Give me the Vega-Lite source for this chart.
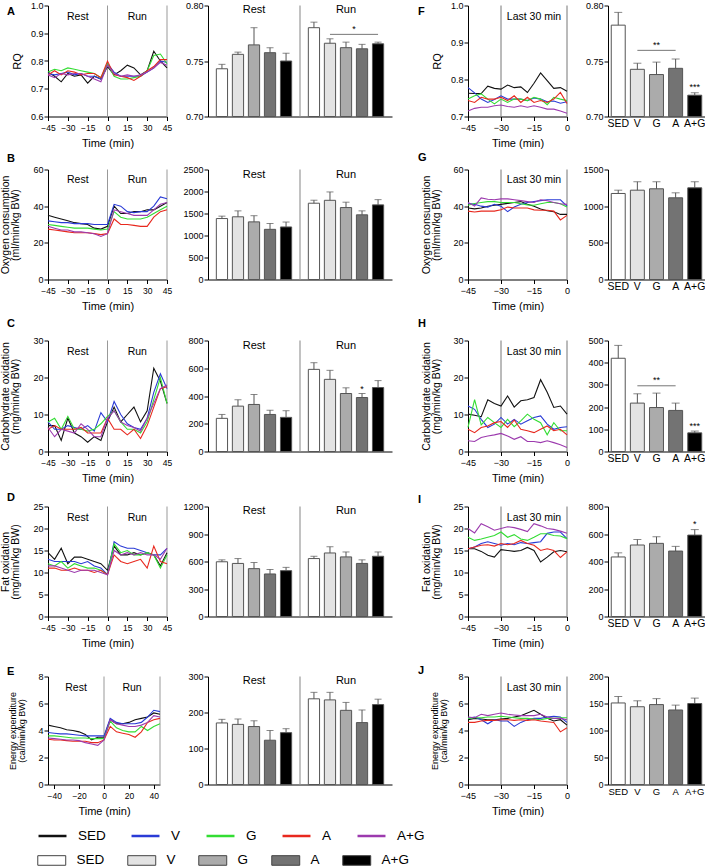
{
"$schema":"https://vega.github.io/schema/vega-lite/v6.json",
"background":"white",
"padding":{"left":0,"top":1.5,"right":0,"bottom":0},
"autosize":{"type":"pad"},
"config":{
 "view":{"stroke":null},
 "font":"Liberation Sans",
 "axis":{"grid":false,"domainColor":"#000000","domainWidth":1,"tickColor":"#000000","tickWidth":1,"tickSize":4,"labelColor":"#000000","labelFont":"Liberation Sans","labelFontSize":9,"labelPadding":1,"labelFlush":false,"labelOverlap":false,"labelBound":false,"titleFont":"Liberation Sans","titleFontSize":10.5,"titleFontWeight":"normal","titleColor":"#000000","titleLineHeight":10},
 "axisX":{"labelPadding":3,"titlePadding":5,"titleFontSize":11},
 "text":{"font":"Liberation Sans","color":"#000000"},
 "title":{"font":"Liberation Sans","color":"#000000"},
 "legend":{"labelFont":"Liberation Sans","labelColor":"#000000"}
},
"datasets":{
"lA":[
{"t":-45,"g":"SED","v":0.76},{"t":-40,"g":"SED","v":0.745},{"t":-35,"g":"SED","v":0.725},{"t":-30,"g":"SED","v":0.755},{"t":-25,"g":"SED","v":0.745},{"t":-20,"g":"SED","v":0.75},{"t":-15,"g":"SED","v":0.72},{"t":-10,"g":"SED","v":0.745},{"t":-5,"g":"SED","v":0.735},{"t":0,"g":"SED","v":0.78},{"t":5,"g":"SED","v":0.75},{"t":10,"g":"SED","v":0.765},{"t":15,"g":"SED","v":0.785},{"t":20,"g":"SED","v":0.775},{"t":25,"g":"SED","v":0.75},{"t":30,"g":"SED","v":0.765},{"t":35,"g":"SED","v":0.835},{"t":40,"g":"SED","v":0.8},{"t":45,"g":"SED","v":0.775},
{"t":-45,"g":"V","v":0.755},{"t":-40,"g":"V","v":0.75},{"t":-35,"g":"V","v":0.755},{"t":-30,"g":"V","v":0.76},{"t":-25,"g":"V","v":0.75},{"t":-20,"g":"V","v":0.755},{"t":-15,"g":"V","v":0.745},{"t":-10,"g":"V","v":0.745},{"t":-5,"g":"V","v":0.735},{"t":0,"g":"V","v":0.79},{"t":5,"g":"V","v":0.76},{"t":10,"g":"V","v":0.745},{"t":15,"g":"V","v":0.745},{"t":20,"g":"V","v":0.745},{"t":25,"g":"V","v":0.745},{"t":30,"g":"V","v":0.76},{"t":35,"g":"V","v":0.775},{"t":40,"g":"V","v":0.8},{"t":45,"g":"V","v":0.795},
{"t":-45,"g":"G","v":0.76},{"t":-40,"g":"G","v":0.77},{"t":-35,"g":"G","v":0.765},{"t":-30,"g":"G","v":0.775},{"t":-25,"g":"G","v":0.77},{"t":-20,"g":"G","v":0.765},{"t":-15,"g":"G","v":0.76},{"t":-10,"g":"G","v":0.755},{"t":-5,"g":"G","v":0.74},{"t":0,"g":"G","v":0.79},{"t":5,"g":"G","v":0.745},{"t":10,"g":"G","v":0.735},{"t":15,"g":"G","v":0.735},{"t":20,"g":"G","v":0.74},{"t":25,"g":"G","v":0.745},{"t":30,"g":"G","v":0.765},{"t":35,"g":"G","v":0.82},{"t":40,"g":"G","v":0.825},{"t":45,"g":"G","v":0.79},
{"t":-45,"g":"A","v":0.75},{"t":-40,"g":"A","v":0.765},{"t":-35,"g":"A","v":0.75},{"t":-30,"g":"A","v":0.765},{"t":-25,"g":"A","v":0.76},{"t":-20,"g":"A","v":0.75},{"t":-15,"g":"A","v":0.755},{"t":-10,"g":"A","v":0.755},{"t":-5,"g":"A","v":0.74},{"t":0,"g":"A","v":0.8},{"t":5,"g":"A","v":0.75},{"t":10,"g":"A","v":0.745},{"t":15,"g":"A","v":0.74},{"t":20,"g":"A","v":0.73},{"t":25,"g":"A","v":0.745},{"t":30,"g":"A","v":0.765},{"t":35,"g":"A","v":0.78},{"t":40,"g":"A","v":0.805},{"t":45,"g":"A","v":0.805},
{"t":-45,"g":"A+G","v":0.75},{"t":-40,"g":"A+G","v":0.74},{"t":-35,"g":"A+G","v":0.755},{"t":-30,"g":"A+G","v":0.75},{"t":-25,"g":"A+G","v":0.755},{"t":-20,"g":"A+G","v":0.755},{"t":-15,"g":"A+G","v":0.745},{"t":-10,"g":"A+G","v":0.735},{"t":-5,"g":"A+G","v":0.725},{"t":0,"g":"A+G","v":0.785},{"t":5,"g":"A+G","v":0.755},{"t":10,"g":"A+G","v":0.745},{"t":15,"g":"A+G","v":0.75},{"t":20,"g":"A+G","v":0.745},{"t":25,"g":"A+G","v":0.75},{"t":30,"g":"A+G","v":0.76},{"t":35,"g":"A+G","v":0.775},{"t":40,"g":"A+G","v":0.795},{"t":45,"g":"A+G","v":0.785}],
"lB":[
{"t":-45,"g":"SED","v":35},{"t":-40,"g":"SED","v":34},{"t":-35,"g":"SED","v":33},{"t":-30,"g":"SED","v":32},{"t":-25,"g":"SED","v":31},{"t":-20,"g":"SED","v":30.5},{"t":-15,"g":"SED","v":30},{"t":-10,"g":"SED","v":28},{"t":-5,"g":"SED","v":27.5},{"t":0,"g":"SED","v":29},{"t":5,"g":"SED","v":40},{"t":10,"g":"SED","v":36},{"t":15,"g":"SED","v":36},{"t":20,"g":"SED","v":37},{"t":25,"g":"SED","v":37},{"t":30,"g":"SED","v":38},{"t":35,"g":"SED","v":38},{"t":40,"g":"SED","v":40},{"t":45,"g":"SED","v":42},
{"t":-45,"g":"V","v":32},{"t":-40,"g":"V","v":31.5},{"t":-35,"g":"V","v":31},{"t":-30,"g":"V","v":31},{"t":-25,"g":"V","v":30.5},{"t":-20,"g":"V","v":30.5},{"t":-15,"g":"V","v":30.5},{"t":-10,"g":"V","v":30},{"t":-5,"g":"V","v":30},{"t":0,"g":"V","v":30},{"t":5,"g":"V","v":41},{"t":10,"g":"V","v":40},{"t":15,"g":"V","v":37},{"t":20,"g":"V","v":36.5},{"t":25,"g":"V","v":37},{"t":30,"g":"V","v":37},{"t":35,"g":"V","v":40},{"t":40,"g":"V","v":45},{"t":45,"g":"V","v":44},
{"t":-45,"g":"G","v":30},{"t":-40,"g":"G","v":29.5},{"t":-35,"g":"G","v":29},{"t":-30,"g":"G","v":28.5},{"t":-25,"g":"G","v":28},{"t":-20,"g":"G","v":28},{"t":-15,"g":"G","v":28},{"t":-10,"g":"G","v":27.5},{"t":-5,"g":"G","v":27},{"t":0,"g":"G","v":27.5},{"t":5,"g":"G","v":37},{"t":10,"g":"G","v":34},{"t":15,"g":"G","v":33},{"t":20,"g":"G","v":33},{"t":25,"g":"G","v":33},{"t":30,"g":"G","v":34},{"t":35,"g":"G","v":36},{"t":40,"g":"G","v":38},{"t":45,"g":"G","v":40},
{"t":-45,"g":"A","v":27.5},{"t":-40,"g":"A","v":27},{"t":-35,"g":"A","v":26.5},{"t":-30,"g":"A","v":26},{"t":-25,"g":"A","v":25.5},{"t":-20,"g":"A","v":25.5},{"t":-15,"g":"A","v":25.5},{"t":-10,"g":"A","v":25},{"t":-5,"g":"A","v":24.5},{"t":0,"g":"A","v":25},{"t":5,"g":"A","v":33},{"t":10,"g":"A","v":30},{"t":15,"g":"A","v":30},{"t":20,"g":"A","v":29.5},{"t":25,"g":"A","v":29},{"t":30,"g":"A","v":29},{"t":35,"g":"A","v":34},{"t":40,"g":"A","v":37},{"t":45,"g":"A","v":38},
{"t":-45,"g":"A+G","v":29},{"t":-40,"g":"A+G","v":28},{"t":-35,"g":"A+G","v":27},{"t":-30,"g":"A+G","v":27},{"t":-25,"g":"A+G","v":26},{"t":-20,"g":"A+G","v":26},{"t":-15,"g":"A+G","v":25.5},{"t":-10,"g":"A+G","v":25},{"t":-5,"g":"A+G","v":23.5},{"t":0,"g":"A+G","v":25},{"t":5,"g":"A+G","v":38},{"t":10,"g":"A+G","v":37},{"t":15,"g":"A+G","v":36},{"t":20,"g":"A+G","v":35},{"t":25,"g":"A+G","v":35},{"t":30,"g":"A+G","v":35},{"t":35,"g":"A+G","v":38},{"t":40,"g":"A+G","v":41},{"t":45,"g":"A+G","v":42}],
"lC":[
{"t":-45,"g":"SED","v":7},{"t":-40,"g":"SED","v":7},{"t":-35,"g":"SED","v":3},{"t":-30,"g":"SED","v":9},{"t":-25,"g":"SED","v":5},{"t":-20,"g":"SED","v":4},{"t":-15,"g":"SED","v":2.5},{"t":-10,"g":"SED","v":4},{"t":-5,"g":"SED","v":3},{"t":0,"g":"SED","v":8},{"t":5,"g":"SED","v":12},{"t":10,"g":"SED","v":8},{"t":15,"g":"SED","v":10},{"t":20,"g":"SED","v":12},{"t":25,"g":"SED","v":8},{"t":30,"g":"SED","v":11},{"t":35,"g":"SED","v":22.5},{"t":40,"g":"SED","v":19},{"t":45,"g":"SED","v":13},
{"t":-45,"g":"V","v":8},{"t":-40,"g":"V","v":6},{"t":-35,"g":"V","v":6},{"t":-30,"g":"V","v":7},{"t":-25,"g":"V","v":6.5},{"t":-20,"g":"V","v":6},{"t":-15,"g":"V","v":7},{"t":-10,"g":"V","v":5.5},{"t":-5,"g":"V","v":10.5},{"t":0,"g":"V","v":8},{"t":5,"g":"V","v":13.5},{"t":10,"g":"V","v":10},{"t":15,"g":"V","v":7.5},{"t":20,"g":"V","v":6.5},{"t":25,"g":"V","v":6},{"t":30,"g":"V","v":9},{"t":35,"g":"V","v":16},{"t":40,"g":"V","v":21},{"t":45,"g":"V","v":17},
{"t":-45,"g":"G","v":8},{"t":-40,"g":"G","v":9},{"t":-35,"g":"G","v":6},{"t":-30,"g":"G","v":9.5},{"t":-25,"g":"G","v":6},{"t":-20,"g":"G","v":6},{"t":-15,"g":"G","v":5.5},{"t":-10,"g":"G","v":6},{"t":-5,"g":"G","v":7.5},{"t":0,"g":"G","v":9.5},{"t":5,"g":"G","v":11},{"t":10,"g":"G","v":8},{"t":15,"g":"G","v":6},{"t":20,"g":"G","v":6},{"t":25,"g":"G","v":5},{"t":30,"g":"G","v":8},{"t":35,"g":"G","v":14},{"t":40,"g":"G","v":20},{"t":45,"g":"G","v":13},
{"t":-45,"g":"A","v":6},{"t":-40,"g":"A","v":7},{"t":-35,"g":"A","v":6},{"t":-30,"g":"A","v":6},{"t":-25,"g":"A","v":6},{"t":-20,"g":"A","v":6.5},{"t":-15,"g":"A","v":5},{"t":-10,"g":"A","v":5},{"t":-5,"g":"A","v":5},{"t":0,"g":"A","v":9},{"t":5,"g":"A","v":6},{"t":10,"g":"A","v":6},{"t":15,"g":"A","v":4.5},{"t":20,"g":"A","v":6},{"t":25,"g":"A","v":3.5},{"t":30,"g":"A","v":7},{"t":35,"g":"A","v":12},{"t":40,"g":"A","v":17},{"t":45,"g":"A","v":17.5},
{"t":-45,"g":"A+G","v":6.5},{"t":-40,"g":"A+G","v":4},{"t":-35,"g":"A+G","v":6},{"t":-30,"g":"A+G","v":5.5},{"t":-25,"g":"A+G","v":5},{"t":-20,"g":"A+G","v":7.5},{"t":-15,"g":"A+G","v":6},{"t":-10,"g":"A+G","v":4},{"t":-5,"g":"A+G","v":4},{"t":0,"g":"A+G","v":9},{"t":5,"g":"A+G","v":11},{"t":10,"g":"A+G","v":8},{"t":15,"g":"A+G","v":7},{"t":20,"g":"A+G","v":6.5},{"t":25,"g":"A+G","v":5.5},{"t":30,"g":"A+G","v":9},{"t":35,"g":"A+G","v":13},{"t":40,"g":"A+G","v":17},{"t":45,"g":"A+G","v":18}],
"lD":[
{"t":-45,"g":"SED","v":14.5},{"t":-40,"g":"SED","v":13},{"t":-35,"g":"SED","v":15.5},{"t":-30,"g":"SED","v":12},{"t":-25,"g":"SED","v":13.5},{"t":-20,"g":"SED","v":13.5},{"t":-15,"g":"SED","v":13},{"t":-10,"g":"SED","v":12.5},{"t":-5,"g":"SED","v":12},{"t":0,"g":"SED","v":10.5},{"t":5,"g":"SED","v":16},{"t":10,"g":"SED","v":14},{"t":15,"g":"SED","v":14},{"t":20,"g":"SED","v":14.5},{"t":25,"g":"SED","v":14},{"t":30,"g":"SED","v":14.5},{"t":35,"g":"SED","v":14},{"t":40,"g":"SED","v":11.5},{"t":45,"g":"SED","v":14.5},
{"t":-45,"g":"V","v":13},{"t":-40,"g":"V","v":12.5},{"t":-35,"g":"V","v":12.5},{"t":-30,"g":"V","v":12.5},{"t":-25,"g":"V","v":12.5},{"t":-20,"g":"V","v":12},{"t":-15,"g":"V","v":12.5},{"t":-10,"g":"V","v":11.5},{"t":-5,"g":"V","v":11},{"t":0,"g":"V","v":9.5},{"t":5,"g":"V","v":17},{"t":10,"g":"V","v":16},{"t":15,"g":"V","v":15.5},{"t":20,"g":"V","v":15.5},{"t":25,"g":"V","v":15},{"t":30,"g":"V","v":14.5},{"t":35,"g":"V","v":14},{"t":40,"g":"V","v":14},{"t":45,"g":"V","v":15.5},
{"t":-45,"g":"G","v":12},{"t":-40,"g":"G","v":11.5},{"t":-35,"g":"G","v":12.5},{"t":-30,"g":"G","v":11},{"t":-25,"g":"G","v":12},{"t":-20,"g":"G","v":11.5},{"t":-15,"g":"G","v":11},{"t":-10,"g":"G","v":11},{"t":-5,"g":"G","v":10.5},{"t":0,"g":"G","v":9.5},{"t":5,"g":"G","v":16.5},{"t":10,"g":"G","v":14.5},{"t":15,"g":"G","v":15},{"t":20,"g":"G","v":14},{"t":25,"g":"G","v":14},{"t":30,"g":"G","v":14.5},{"t":35,"g":"G","v":14},{"t":40,"g":"G","v":11},{"t":45,"g":"G","v":14},
{"t":-45,"g":"A","v":11},{"t":-40,"g":"A","v":11},{"t":-35,"g":"A","v":10.5},{"t":-30,"g":"A","v":10.5},{"t":-25,"g":"A","v":11},{"t":-20,"g":"A","v":10.5},{"t":-15,"g":"A","v":10.5},{"t":-10,"g":"A","v":10},{"t":-5,"g":"A","v":10.5},{"t":0,"g":"A","v":9.5},{"t":5,"g":"A","v":14},{"t":10,"g":"A","v":12.5},{"t":15,"g":"A","v":12},{"t":20,"g":"A","v":12.5},{"t":25,"g":"A","v":13},{"t":30,"g":"A","v":11},{"t":35,"g":"A","v":16},{"t":40,"g":"A","v":12.5},{"t":45,"g":"A","v":12},
{"t":-45,"g":"A+G","v":11.5},{"t":-40,"g":"A+G","v":11.5},{"t":-35,"g":"A+G","v":11},{"t":-30,"g":"A+G","v":10.5},{"t":-25,"g":"A+G","v":10},{"t":-20,"g":"A+G","v":10.5},{"t":-15,"g":"A+G","v":10.5},{"t":-10,"g":"A+G","v":10.5},{"t":-5,"g":"A+G","v":10},{"t":0,"g":"A+G","v":9.5},{"t":5,"g":"A+G","v":15},{"t":10,"g":"A+G","v":14},{"t":15,"g":"A+G","v":14.5},{"t":20,"g":"A+G","v":14},{"t":25,"g":"A+G","v":14.5},{"t":30,"g":"A+G","v":14},{"t":35,"g":"A+G","v":14},{"t":40,"g":"A+G","v":13},{"t":45,"g":"A+G","v":15.5}],
"lE":[
{"t":-45,"g":"SED","v":4.4},{"t":-40,"g":"SED","v":4.3},{"t":-35,"g":"SED","v":4.2},{"t":-30,"g":"SED","v":4.05},{"t":-25,"g":"SED","v":4},{"t":-20,"g":"SED","v":3.9},{"t":-15,"g":"SED","v":3.7},{"t":-10,"g":"SED","v":3.3},{"t":-5,"g":"SED","v":3.5},{"t":0,"g":"SED","v":3.5},{"t":5,"g":"SED","v":4.8},{"t":10,"g":"SED","v":4.5},{"t":15,"g":"SED","v":4.5},{"t":20,"g":"SED","v":4.6},{"t":25,"g":"SED","v":4.8},{"t":30,"g":"SED","v":4.9},{"t":35,"g":"SED","v":5},{"t":40,"g":"SED","v":5.3},{"t":45,"g":"SED","v":5.2},
{"t":-45,"g":"V","v":3.85},{"t":-40,"g":"V","v":3.8},{"t":-35,"g":"V","v":3.75},{"t":-30,"g":"V","v":3.75},{"t":-25,"g":"V","v":3.7},{"t":-20,"g":"V","v":3.65},{"t":-15,"g":"V","v":3.6},{"t":-10,"g":"V","v":3.6},{"t":-5,"g":"V","v":3.6},{"t":0,"g":"V","v":3.6},{"t":5,"g":"V","v":4.9},{"t":10,"g":"V","v":4.6},{"t":15,"g":"V","v":4.5},{"t":20,"g":"V","v":4.5},{"t":25,"g":"V","v":4.5},{"t":30,"g":"V","v":4.6},{"t":35,"g":"V","v":5},{"t":40,"g":"V","v":5.5},{"t":45,"g":"V","v":5.4},
{"t":-45,"g":"G","v":3.6},{"t":-40,"g":"G","v":3.6},{"t":-35,"g":"G","v":3.55},{"t":-30,"g":"G","v":3.5},{"t":-25,"g":"G","v":3.45},{"t":-20,"g":"G","v":3.45},{"t":-15,"g":"G","v":3.45},{"t":-10,"g":"G","v":3.4},{"t":-5,"g":"G","v":3.4},{"t":0,"g":"G","v":3.4},{"t":5,"g":"G","v":4.7},{"t":10,"g":"G","v":4.2},{"t":15,"g":"G","v":4},{"t":20,"g":"G","v":3.9},{"t":25,"g":"G","v":3.9},{"t":30,"g":"G","v":4.3},{"t":35,"g":"G","v":4},{"t":40,"g":"G","v":4.3},{"t":45,"g":"G","v":4.5},
{"t":-45,"g":"A","v":3.35},{"t":-40,"g":"A","v":3.3},{"t":-35,"g":"A","v":3.3},{"t":-30,"g":"A","v":3.25},{"t":-25,"g":"A","v":3.2},{"t":-20,"g":"A","v":3.2},{"t":-15,"g":"A","v":3.2},{"t":-10,"g":"A","v":3.1},{"t":-5,"g":"A","v":3.1},{"t":0,"g":"A","v":3.3},{"t":5,"g":"A","v":4.3},{"t":10,"g":"A","v":3.9},{"t":15,"g":"A","v":3.8},{"t":20,"g":"A","v":3.7},{"t":25,"g":"A","v":3.5},{"t":30,"g":"A","v":3.9},{"t":35,"g":"A","v":4.6},{"t":40,"g":"A","v":4.8},{"t":45,"g":"A","v":4.9},
{"t":-45,"g":"A+G","v":3.45},{"t":-40,"g":"A+G","v":3.4},{"t":-35,"g":"A+G","v":3.35},{"t":-30,"g":"A+G","v":3.3},{"t":-25,"g":"A+G","v":3.3},{"t":-20,"g":"A+G","v":3.25},{"t":-15,"g":"A+G","v":3.1},{"t":-10,"g":"A+G","v":3},{"t":-5,"g":"A+G","v":2.9},{"t":0,"g":"A+G","v":3.3},{"t":5,"g":"A+G","v":4.8},{"t":10,"g":"A+G","v":4.5},{"t":15,"g":"A+G","v":4.4},{"t":20,"g":"A+G","v":4.3},{"t":25,"g":"A+G","v":4.3},{"t":30,"g":"A+G","v":4.4},{"t":35,"g":"A+G","v":4.6},{"t":40,"g":"A+G","v":5.1},{"t":45,"g":"A+G","v":5}],
"lF":[
{"t":-45,"g":"SED","v":0.763},{"t":-42,"g":"SED","v":0.762},{"t":-39,"g":"SED","v":0.762},{"t":-36,"g":"SED","v":0.782},{"t":-33,"g":"SED","v":0.776},{"t":-30,"g":"SED","v":0.774},{"t":-27,"g":"SED","v":0.785},{"t":-24,"g":"SED","v":0.778},{"t":-21,"g":"SED","v":0.78},{"t":-18,"g":"SED","v":0.765},{"t":-15,"g":"SED","v":0.79},{"t":-12,"g":"SED","v":0.818},{"t":-9,"g":"SED","v":0.797},{"t":-6,"g":"SED","v":0.776},{"t":-3,"g":"SED","v":0.778},{"t":0,"g":"SED","v":0.768},
{"t":-45,"g":"V","v":0.778},{"t":-42,"g":"V","v":0.764},{"t":-39,"g":"V","v":0.747},{"t":-36,"g":"V","v":0.738},{"t":-33,"g":"V","v":0.746},{"t":-30,"g":"V","v":0.756},{"t":-27,"g":"V","v":0.747},{"t":-24,"g":"V","v":0.747},{"t":-21,"g":"V","v":0.747},{"t":-18,"g":"V","v":0.743},{"t":-15,"g":"V","v":0.75},{"t":-12,"g":"V","v":0.747},{"t":-9,"g":"V","v":0.74},{"t":-6,"g":"V","v":0.742},{"t":-3,"g":"V","v":0.736},{"t":0,"g":"V","v":0.74},
{"t":-45,"g":"G","v":0.747},{"t":-42,"g":"G","v":0.756},{"t":-39,"g":"G","v":0.761},{"t":-36,"g":"G","v":0.747},{"t":-33,"g":"G","v":0.734},{"t":-30,"g":"G","v":0.747},{"t":-27,"g":"G","v":0.738},{"t":-24,"g":"G","v":0.747},{"t":-21,"g":"G","v":0.747},{"t":-18,"g":"G","v":0.743},{"t":-15,"g":"G","v":0.752},{"t":-12,"g":"G","v":0.747},{"t":-9,"g":"G","v":0.732},{"t":-6,"g":"G","v":0.752},{"t":-3,"g":"G","v":0.747},{"t":0,"g":"G","v":0.743},
{"t":-45,"g":"A","v":0.743},{"t":-42,"g":"A","v":0.738},{"t":-39,"g":"A","v":0.752},{"t":-36,"g":"A","v":0.747},{"t":-33,"g":"A","v":0.747},{"t":-30,"g":"A","v":0.752},{"t":-27,"g":"A","v":0.743},{"t":-24,"g":"A","v":0.756},{"t":-21,"g":"A","v":0.738},{"t":-18,"g":"A","v":0.752},{"t":-15,"g":"A","v":0.738},{"t":-12,"g":"A","v":0.743},{"t":-9,"g":"A","v":0.738},{"t":-6,"g":"A","v":0.747},{"t":-3,"g":"A","v":0.765},{"t":0,"g":"A","v":0.735},
{"t":-45,"g":"A+G","v":0.715},{"t":-42,"g":"A+G","v":0.722},{"t":-39,"g":"A+G","v":0.725},{"t":-36,"g":"A+G","v":0.725},{"t":-33,"g":"A+G","v":0.729},{"t":-30,"g":"A+G","v":0.731},{"t":-27,"g":"A+G","v":0.727},{"t":-24,"g":"A+G","v":0.725},{"t":-21,"g":"A+G","v":0.729},{"t":-18,"g":"A+G","v":0.725},{"t":-15,"g":"A+G","v":0.729},{"t":-12,"g":"A+G","v":0.725},{"t":-9,"g":"A+G","v":0.72},{"t":-6,"g":"A+G","v":0.72},{"t":-3,"g":"A+G","v":0.715},{"t":0,"g":"A+G","v":0.709}],
"lG":[
{"t":-45,"g":"SED","v":39},{"t":-42,"g":"SED","v":38.5},{"t":-39,"g":"SED","v":39},{"t":-36,"g":"SED","v":40},{"t":-33,"g":"SED","v":40.5},{"t":-30,"g":"SED","v":41},{"t":-27,"g":"SED","v":41.5},{"t":-24,"g":"SED","v":42},{"t":-21,"g":"SED","v":42.5},{"t":-18,"g":"SED","v":41},{"t":-15,"g":"SED","v":40},{"t":-12,"g":"SED","v":38.5},{"t":-9,"g":"SED","v":37.5},{"t":-6,"g":"SED","v":37},{"t":-3,"g":"SED","v":35.5},{"t":0,"g":"SED","v":35.5},
{"t":-45,"g":"V","v":41.5},{"t":-42,"g":"V","v":41},{"t":-39,"g":"V","v":40},{"t":-36,"g":"V","v":39.5},{"t":-33,"g":"V","v":41},{"t":-30,"g":"V","v":40},{"t":-27,"g":"V","v":37},{"t":-24,"g":"V","v":39.5},{"t":-21,"g":"V","v":41},{"t":-18,"g":"V","v":42},{"t":-15,"g":"V","v":42.5},{"t":-12,"g":"V","v":43},{"t":-9,"g":"V","v":43.5},{"t":-6,"g":"V","v":43.5},{"t":-3,"g":"V","v":43.5},{"t":0,"g":"V","v":40},
{"t":-45,"g":"G","v":40.5},{"t":-42,"g":"G","v":41.5},{"t":-39,"g":"G","v":42},{"t":-36,"g":"G","v":42.5},{"t":-33,"g":"G","v":42.5},{"t":-30,"g":"G","v":42},{"t":-27,"g":"G","v":42},{"t":-24,"g":"G","v":42},{"t":-21,"g":"G","v":41.3},{"t":-18,"g":"G","v":40.7},{"t":-15,"g":"G","v":40.5},{"t":-12,"g":"G","v":41.3},{"t":-9,"g":"G","v":42},{"t":-6,"g":"G","v":42},{"t":-3,"g":"G","v":41.3},{"t":0,"g":"G","v":39.5},
{"t":-45,"g":"A","v":37.3},{"t":-42,"g":"A","v":36.8},{"t":-39,"g":"A","v":37.3},{"t":-36,"g":"A","v":37.3},{"t":-33,"g":"A","v":37.3},{"t":-30,"g":"A","v":38},{"t":-27,"g":"A","v":39.5},{"t":-24,"g":"A","v":39},{"t":-21,"g":"A","v":39},{"t":-18,"g":"A","v":39},{"t":-15,"g":"A","v":38},{"t":-12,"g":"A","v":37.8},{"t":-9,"g":"A","v":37.8},{"t":-6,"g":"A","v":37.3},{"t":-3,"g":"A","v":32.5},{"t":0,"g":"A","v":35},
{"t":-45,"g":"A+G","v":42},{"t":-42,"g":"A+G","v":40},{"t":-39,"g":"A+G","v":44.5},{"t":-36,"g":"A+G","v":43.8},{"t":-33,"g":"A+G","v":43.5},{"t":-30,"g":"A+G","v":44},{"t":-27,"g":"A+G","v":44},{"t":-24,"g":"A+G","v":43.5},{"t":-21,"g":"A+G","v":43},{"t":-18,"g":"A+G","v":42.5},{"t":-15,"g":"A+G","v":42},{"t":-12,"g":"A+G","v":43.5},{"t":-9,"g":"A+G","v":43},{"t":-6,"g":"A+G","v":42},{"t":-3,"g":"A+G","v":41.3},{"t":0,"g":"A+G","v":41}],
"lH":[
{"t":-45,"g":"SED","v":10.1},{"t":-42,"g":"SED","v":9.8},{"t":-39,"g":"SED","v":9.4},{"t":-36,"g":"SED","v":14},{"t":-33,"g":"SED","v":13},{"t":-30,"g":"SED","v":12.3},{"t":-27,"g":"SED","v":15},{"t":-24,"g":"SED","v":12},{"t":-21,"g":"SED","v":13.7},{"t":-18,"g":"SED","v":14},{"t":-15,"g":"SED","v":14.6},{"t":-12,"g":"SED","v":19.4},{"t":-9,"g":"SED","v":16},{"t":-6,"g":"SED","v":11.9},{"t":-3,"g":"SED","v":12.3},{"t":0,"g":"SED","v":10.1},
{"t":-45,"g":"V","v":12.3},{"t":-42,"g":"V","v":11.4},{"t":-39,"g":"V","v":8.7},{"t":-36,"g":"V","v":6.5},{"t":-33,"g":"V","v":7.4},{"t":-30,"g":"V","v":9.2},{"t":-27,"g":"V","v":7.4},{"t":-24,"g":"V","v":8.7},{"t":-21,"g":"V","v":7.4},{"t":-18,"g":"V","v":8.3},{"t":-15,"g":"V","v":9.2},{"t":-12,"g":"V","v":9.6},{"t":-9,"g":"V","v":7.4},{"t":-6,"g":"V","v":6},{"t":-3,"g":"V","v":6.5},{"t":0,"g":"V","v":6.7},
{"t":-45,"g":"G","v":6.5},{"t":-42,"g":"G","v":14},{"t":-39,"g":"G","v":7.2},{"t":-36,"g":"G","v":9.2},{"t":-33,"g":"G","v":7.8},{"t":-30,"g":"G","v":6.5},{"t":-27,"g":"G","v":8.7},{"t":-24,"g":"G","v":6.7},{"t":-21,"g":"G","v":8.3},{"t":-18,"g":"G","v":10.1},{"t":-15,"g":"G","v":8.7},{"t":-12,"g":"G","v":7.8},{"t":-9,"g":"G","v":4.5},{"t":-6,"g":"G","v":7.8},{"t":-3,"g":"G","v":5.6},{"t":0,"g":"G","v":5.6},
{"t":-45,"g":"A","v":6},{"t":-42,"g":"A","v":5.1},{"t":-39,"g":"A","v":6.5},{"t":-36,"g":"A","v":6.9},{"t":-33,"g":"A","v":7.8},{"t":-30,"g":"A","v":8.1},{"t":-27,"g":"A","v":6.5},{"t":-24,"g":"A","v":8.5},{"t":-21,"g":"A","v":6},{"t":-18,"g":"A","v":5.6},{"t":-15,"g":"A","v":5.1},{"t":-12,"g":"A","v":6},{"t":-9,"g":"A","v":6.9},{"t":-6,"g":"A","v":5.6},{"t":-3,"g":"A","v":6},{"t":0,"g":"A","v":4.5},
{"t":-45,"g":"A+G","v":2.9},{"t":-42,"g":"A+G","v":2.7},{"t":-39,"g":"A+G","v":3.8},{"t":-36,"g":"A+G","v":4.2},{"t":-33,"g":"A+G","v":4.5},{"t":-30,"g":"A+G","v":4.9},{"t":-27,"g":"A+G","v":4.2},{"t":-24,"g":"A+G","v":3.3},{"t":-21,"g":"A+G","v":4},{"t":-18,"g":"A+G","v":2.7},{"t":-15,"g":"A+G","v":2.7},{"t":-12,"g":"A+G","v":2.4},{"t":-9,"g":"A+G","v":2.9},{"t":-6,"g":"A+G","v":2.4},{"t":-3,"g":"A+G","v":1.8},{"t":0,"g":"A+G","v":1.1}],
"lI":[
{"t":-45,"g":"SED","v":15.4},{"t":-42,"g":"SED","v":15.4},{"t":-39,"g":"SED","v":14.8},{"t":-36,"g":"SED","v":13.9},{"t":-33,"g":"SED","v":13.5},{"t":-30,"g":"SED","v":15.2},{"t":-27,"g":"SED","v":15},{"t":-24,"g":"SED","v":14.8},{"t":-21,"g":"SED","v":15},{"t":-18,"g":"SED","v":15.7},{"t":-15,"g":"SED","v":15},{"t":-12,"g":"SED","v":12.4},{"t":-9,"g":"SED","v":13.5},{"t":-6,"g":"SED","v":14.7},{"t":-3,"g":"SED","v":15},{"t":0,"g":"SED","v":14.7},
{"t":-45,"g":"V","v":15.4},{"t":-42,"g":"V","v":15.8},{"t":-39,"g":"V","v":16.6},{"t":-36,"g":"V","v":17},{"t":-33,"g":"V","v":16.6},{"t":-30,"g":"V","v":16.2},{"t":-27,"g":"V","v":16.6},{"t":-24,"g":"V","v":16.3},{"t":-21,"g":"V","v":16.8},{"t":-18,"g":"V","v":16.6},{"t":-15,"g":"V","v":16.8},{"t":-12,"g":"V","v":17},{"t":-9,"g":"V","v":18.9},{"t":-6,"g":"V","v":19.2},{"t":-3,"g":"V","v":19.2},{"t":0,"g":"V","v":17.7},
{"t":-45,"g":"G","v":18},{"t":-42,"g":"G","v":17.3},{"t":-39,"g":"G","v":17.6},{"t":-36,"g":"G","v":18},{"t":-33,"g":"G","v":18.4},{"t":-30,"g":"G","v":19.2},{"t":-27,"g":"G","v":18},{"t":-24,"g":"G","v":18.6},{"t":-21,"g":"G","v":17.6},{"t":-18,"g":"G","v":17.3},{"t":-15,"g":"G","v":18},{"t":-12,"g":"G","v":18.8},{"t":-9,"g":"G","v":18.8},{"t":-6,"g":"G","v":18.4},{"t":-3,"g":"G","v":18.3},{"t":0,"g":"G","v":17.7},
{"t":-45,"g":"A","v":15.4},{"t":-42,"g":"A","v":15.8},{"t":-39,"g":"A","v":16.2},{"t":-36,"g":"A","v":16.3},{"t":-33,"g":"A","v":16},{"t":-30,"g":"A","v":16.6},{"t":-27,"g":"A","v":16.3},{"t":-24,"g":"A","v":16.6},{"t":-21,"g":"A","v":17.3},{"t":-18,"g":"A","v":16.6},{"t":-15,"g":"A","v":16.2},{"t":-12,"g":"A","v":15},{"t":-9,"g":"A","v":15.4},{"t":-6,"g":"A","v":15},{"t":-3,"g":"A","v":13.4},{"t":0,"g":"A","v":14.7},
{"t":-45,"g":"A+G","v":20},{"t":-42,"g":"A+G","v":19},{"t":-39,"g":"A+G","v":21.1},{"t":-36,"g":"A+G","v":20.4},{"t":-33,"g":"A+G","v":19.6},{"t":-30,"g":"A+G","v":20},{"t":-27,"g":"A+G","v":20.4},{"t":-24,"g":"A+G","v":20.2},{"t":-21,"g":"A+G","v":19.8},{"t":-18,"g":"A+G","v":19.3},{"t":-15,"g":"A+G","v":21.1},{"t":-12,"g":"A+G","v":20.6},{"t":-9,"g":"A+G","v":20},{"t":-6,"g":"A+G","v":19.8},{"t":-3,"g":"A+G","v":19.4},{"t":0,"g":"A+G","v":18.9}],
"lJ":[
{"t":-45,"g":"SED","v":4.8},{"t":-42,"g":"SED","v":4.9},{"t":-39,"g":"SED","v":4.85},{"t":-36,"g":"SED","v":4.8},{"t":-33,"g":"SED","v":4.8},{"t":-30,"g":"SED","v":4.85},{"t":-27,"g":"SED","v":4.9},{"t":-24,"g":"SED","v":5},{"t":-21,"g":"SED","v":5.1},{"t":-18,"g":"SED","v":5.3},{"t":-15,"g":"SED","v":5.5},{"t":-12,"g":"SED","v":5.2},{"t":-9,"g":"SED","v":4.9},{"t":-6,"g":"SED","v":4.7},{"t":-3,"g":"SED","v":4.8},{"t":0,"g":"SED","v":4.4},
{"t":-45,"g":"V","v":4.9},{"t":-42,"g":"V","v":5},{"t":-39,"g":"V","v":4.8},{"t":-36,"g":"V","v":4.5},{"t":-33,"g":"V","v":4.8},{"t":-30,"g":"V","v":4.7},{"t":-27,"g":"V","v":4.7},{"t":-24,"g":"V","v":4.3},{"t":-21,"g":"V","v":4.6},{"t":-18,"g":"V","v":4.8},{"t":-15,"g":"V","v":4.9},{"t":-12,"g":"V","v":4.9},{"t":-9,"g":"V","v":5},{"t":-6,"g":"V","v":5.05},{"t":-3,"g":"V","v":5},{"t":0,"g":"V","v":4.6},
{"t":-45,"g":"G","v":4.9},{"t":-42,"g":"G","v":4.95},{"t":-39,"g":"G","v":4.95},{"t":-36,"g":"G","v":5},{"t":-33,"g":"G","v":5},{"t":-30,"g":"G","v":5.05},{"t":-27,"g":"G","v":5},{"t":-24,"g":"G","v":4.95},{"t":-21,"g":"G","v":4.9},{"t":-18,"g":"G","v":4.9},{"t":-15,"g":"G","v":4.85},{"t":-12,"g":"G","v":4.8},{"t":-9,"g":"G","v":4.9},{"t":-6,"g":"G","v":4.9},{"t":-3,"g":"G","v":4.95},{"t":0,"g":"G","v":4.95},
{"t":-45,"g":"A","v":4.6},{"t":-42,"g":"A","v":4.6},{"t":-39,"g":"A","v":4.7},{"t":-36,"g":"A","v":4.75},{"t":-33,"g":"A","v":4.75},{"t":-30,"g":"A","v":4.8},{"t":-27,"g":"A","v":4.8},{"t":-24,"g":"A","v":4.75},{"t":-21,"g":"A","v":4.8},{"t":-18,"g":"A","v":4.75},{"t":-15,"g":"A","v":4.8},{"t":-12,"g":"A","v":4.7},{"t":-9,"g":"A","v":4.65},{"t":-6,"g":"A","v":4.6},{"t":-3,"g":"A","v":3.9},{"t":0,"g":"A","v":4.2},
{"t":-45,"g":"A+G","v":5},{"t":-42,"g":"A+G","v":4.95},{"t":-39,"g":"A+G","v":5.2},{"t":-36,"g":"A+G","v":5.1},{"t":-33,"g":"A+G","v":5.2},{"t":-30,"g":"A+G","v":5.3},{"t":-27,"g":"A+G","v":5.2},{"t":-24,"g":"A+G","v":5.15},{"t":-21,"g":"A+G","v":5.1},{"t":-18,"g":"A+G","v":5.1},{"t":-15,"g":"A+G","v":5.1},{"t":-12,"g":"A+G","v":5.2},{"t":-9,"g":"A+G","v":5},{"t":-6,"g":"A+G","v":4.9},{"t":-3,"g":"A+G","v":4.9},{"t":0,"g":"A+G","v":4.8}],
"bA":[{"phase":"Rest","group":"SED","mean":0.743,"hi":0.747},{"phase":"Rest","group":"V","mean":0.756,"hi":0.758},{"phase":"Rest","group":"G","mean":0.7645,"hi":0.78},{"phase":"Rest","group":"A","mean":0.7575,"hi":0.762},{"phase":"Rest","group":"A+G","mean":0.75,"hi":0.757},{"phase":"Run","group":"SED","mean":0.78,"hi":0.785},{"phase":"Run","group":"V","mean":0.766,"hi":0.77},{"phase":"Run","group":"G","mean":0.762,"hi":0.767},{"phase":"Run","group":"A","mean":0.761,"hi":0.765},{"phase":"Run","group":"A+G","mean":0.7655,"hi":0.767}],
"bB":[{"phase":"Rest","group":"SED","mean":1385,"hi":1440},{"phase":"Rest","group":"V","mean":1425,"hi":1560},{"phase":"Rest","group":"G","mean":1310,"hi":1450},{"phase":"Rest","group":"A","mean":1140,"hi":1275},{"phase":"Rest","group":"A+G","mean":1194,"hi":1306},{"phase":"Run","group":"SED","mean":1734,"hi":1802},{"phase":"Run","group":"V","mean":1800,"hi":1990},{"phase":"Run","group":"G","mean":1635,"hi":1757},{"phase":"Run","group":"A","mean":1470,"hi":1560},{"phase":"Run","group":"A+G","mean":1696,"hi":1815}],
"bC":[{"phase":"Rest","group":"SED","mean":239,"hi":267},{"phase":"Rest","group":"V","mean":327,"hi":373},{"phase":"Rest","group":"G","mean":339,"hi":411},{"phase":"Rest","group":"A","mean":267,"hi":298},{"phase":"Rest","group":"A+G","mean":246,"hi":294},{"phase":"Run","group":"SED","mean":592,"hi":640},{"phase":"Run","group":"V","mean":520,"hi":585},{"phase":"Run","group":"G","mean":418,"hi":459},{"phase":"Run","group":"A","mean":389,"hi":418},{"phase":"Run","group":"A+G","mean":461,"hi":511}],
"bD":[{"phase":"Rest","group":"SED","mean":597,"hi":618},{"phase":"Rest","group":"V","mean":579,"hi":632},{"phase":"Rest","group":"G","mean":522,"hi":589},{"phase":"Rest","group":"A","mean":464,"hi":514},{"phase":"Rest","group":"A+G","mean":500,"hi":536},{"phase":"Run","group":"SED","mean":632,"hi":657},{"phase":"Run","group":"V","mean":693,"hi":761},{"phase":"Run","group":"G","mean":650,"hi":704},{"phase":"Run","group":"A","mean":579,"hi":618},{"phase":"Run","group":"A+G","mean":657,"hi":704}],
"bE":[{"phase":"Rest","group":"SED","mean":171,"hi":181},{"phase":"Rest","group":"V","mean":167,"hi":182},{"phase":"Rest","group":"G","mean":161,"hi":177},{"phase":"Rest","group":"A","mean":123,"hi":150},{"phase":"Rest","group":"A+G","mean":144,"hi":155},{"phase":"Run","group":"SED","mean":238,"hi":256},{"phase":"Run","group":"V","mean":235,"hi":256},{"phase":"Run","group":"G","mean":206,"hi":228},{"phase":"Run","group":"A","mean":172,"hi":207},{"phase":"Run","group":"A+G","mean":222,"hi":237}],
"bF":[{"group":"SED","mean":0.7823,"hi":0.7938},{"group":"V","mean":0.7425,"hi":0.748},{"group":"G","mean":0.7378,"hi":0.749},{"group":"A","mean":0.7434,"hi":0.7518},{"group":"A+G","mean":0.7192,"hi":0.7214}],
"bG":[{"group":"SED","mean":1173,"hi":1218},{"group":"V","mean":1218,"hi":1333},{"group":"G","mean":1237,"hi":1333},{"group":"A","mean":1114,"hi":1182},{"group":"A+G","mean":1250,"hi":1333}],
"bH":[{"group":"SED","mean":420,"hi":478},{"group":"V","mean":218,"hi":260},{"group":"G","mean":198,"hi":263},{"group":"A","mean":185,"hi":218},{"group":"A+G","mean":84,"hi":92}],
"bI":[{"group":"SED","mean":433,"hi":463},{"group":"V","mean":520,"hi":560},{"group":"G","mean":532,"hi":580},{"group":"A","mean":476,"hi":510},{"group":"A+G","mean":592,"hi":632}],
"bJ":[{"group":"SED","mean":151,"hi":163},{"group":"V","mean":144,"hi":155},{"group":"G","mean":148,"hi":159},{"group":"A","mean":138,"hi":147},{"group":"A+G","mean":150,"hi":160}]
},
"concat":[
{"width":119,"height":111,"title":{"text":"A","anchor":"start","frame":"group","fontSize":11,"fontWeight":"bold","baseline":"alphabetic","offset":0,"dx":-41,"dy":24.5},
 "layer":[
 {"data":{"values":[{}]},"mark":{"type":"rule","color":"#999999","strokeWidth":1},"encoding":{"x":{"datum":0}}},
 {"data":{"values":[{}]},"mark":{"type":"rule","color":"#999999","strokeWidth":1},"encoding":{"x":{"datum":45}}},
 {"data":{"name":"lA"},"mark":{"type":"line","strokeWidth":1.1},"encoding":{
  "x":{"field":"t","type":"quantitative","scale":{"domain":[-45,45],"nice":false},"axis":{"values":[-45,-30,-15,0,15,30,45],"tickCount":20,"labelFontSize":8.5,"title":"Time (min)"}},
  "y":{"field":"v","type":"quantitative","scale":{"domain":[0.6,1],"nice":false,"zero":false},"axis":{"values":[0.6,0.7,0.8,0.9,1],"tickCount":20,"format":".1f","title":"RQ","titleFontSize":11,"titleX":-26}},
  "color":{"field":"g","type":"nominal","scale":{"domain":["SED","V","G","A","A+G"],"range":["#111111","#2a3bd6","#33dd33","#e8281e","#9c3aae"]},
   "legend":{"orient":"none","legendX":-11,"legendY":823,"direction":"horizontal","title":null,"symbolType":"M-2.33,0H2.33","symbolSize":144,"symbolStrokeWidth":2.5,"symbolOffset":8,"labelFontSize":13.5,"labelOffset":18,"columnPadding":20,"padding":0}}}},
 {"data":{"values":[{}]},"mark":{"type":"text","fontSize":10.5,"baseline":"alphabetic"},"encoding":{"x":{"datum":-22.5},"y":{"datum":0.9495},"text":{"value":"Rest"}}},
 {"data":{"values":[{}]},"mark":{"type":"text","fontSize":10.5,"baseline":"alphabetic"},"encoding":{"x":{"datum":22.5},"y":{"datum":0.9495},"text":{"value":"Run"}}}
 ]},
{"width":41,"height":111,"data":{"values":[]},"mark":{"type":"point","opacity":0}},
{"width":184,"height":111,"layer":[
 {"data":{"name":"bA"},"mark":{"type":"bar","stroke":"#555555","strokeWidth":1},"encoding":{
  "x":{"field":"phase","type":"nominal","scale":{"domain":["Rest","Run"],"paddingInner":0,"paddingOuter":0},"axis":{"labels":false,"ticks":false,"title":null}},
  "xOffset":{"field":"group","type":"nominal","scale":{"domain":["SED","V","G","A","A+G"],"paddingInner":0.3,"paddingOuter":0.52}},
  "y":{"field":"mean","type":"quantitative","scale":{"domain":[0.7,0.8],"nice":false,"zero":false},"axis":{"values":[0.7,0.75,0.8],"tickCount":20,"format":".2f","title":null}},
  "y2":{"datum":0.7},
  "fill":{"field":"group","type":"nominal","scale":{"domain":["A+G","A","G","V","SED"],"range":["#000000","#737373","#ababab","#e3e3e3","#ffffff"]},
   "legend":{"orient":"none","legendX":-11,"legendY":848,"direction":"horizontal","title":null,"values":["SED","V","G","A","A+G"],"symbolType":"M-2.33,-0.8H2.33V0.8H-2.33Z","symbolSize":144,"symbolStrokeColor":"#444444","symbolStrokeWidth":1,"symbolOffset":8,"labelFontSize":13.5,"labelOffset":18,"columnPadding":20,"padding":0}}}},
 {"data":{"name":"bA"},"mark":{"type":"rule","color":"#555555","strokeWidth":1},"encoding":{"x":{"field":"phase","type":"nominal"},"xOffset":{"field":"group","type":"nominal"},"y":{"field":"mean","type":"quantitative"},"y2":{"field":"hi"}}},
 {"data":{"name":"bA"},"mark":{"type":"tick","color":"#555555","orient":"horizontal","size":7,"thickness":1},"encoding":{"x":{"field":"phase","type":"nominal"},"xOffset":{"field":"group","type":"nominal"},"y":{"field":"hi","type":"quantitative"}}},
 {"data":{"values":[{}]},"mark":{"type":"rule","color":"#999999","strokeWidth":1.2},"encoding":{"x":{"datum":"Run","bandPosition":0}}},
 {"data":{"values":[{}]},"mark":{"type":"text","fontSize":11,"baseline":"alphabetic"},"encoding":{"x":{"datum":"Rest"},"y":{"datum":0.7928},"text":{"value":"Rest"}}},
 {"data":{"values":[{}]},"mark":{"type":"text","fontSize":11,"baseline":"alphabetic"},"encoding":{"x":{"datum":"Run"},"y":{"datum":0.7928},"text":{"value":"Run"}}},
 {"data":{"values":[{"phase":"Run","group":"V","y":0.774},{"phase":"Run","group":"A+G","y":0.774}]},"mark":{"type":"line","color":"#777777","strokeWidth":1},"encoding":{"x":{"field":"phase","type":"nominal"},"xOffset":{"field":"group","type":"nominal"},"y":{"field":"y","type":"quantitative"}}},
 {"data":{"values":[{"phase":"Run","group":"G","y":0.774,"s":"*"}]},"mark":{"type":"text","fontSize":9,"dx":8,"dy":-2,"baseline":"alphabetic"},"encoding":{"x":{"field":"phase","type":"nominal"},"xOffset":{"field":"group","type":"nominal"},"y":{"field":"y","type":"quantitative"},"text":{"field":"s"}}}
 ]},
{"width":76,"height":111,"data":{"values":[]},"mark":{"type":"point","opacity":0}},
{"width":99,"height":111,"title":{"text":"F","anchor":"start","frame":"group","fontSize":11,"fontWeight":"bold","baseline":"alphabetic","offset":0,"dx":-50,"dy":24.2},
 "layer":[
 {"data":{"values":[{}]},"mark":{"type":"rule","color":"#777777","strokeWidth":1},"encoding":{"x":{"datum":-30}}},
 {"data":{"values":[{}]},"mark":{"type":"rule","color":"#777777","strokeWidth":1},"encoding":{"x":{"datum":0}}},
 {"data":{"name":"lF"},"mark":{"type":"line","strokeWidth":1.1},"encoding":{
  "x":{"field":"t","type":"quantitative","scale":{"domain":[-45,0],"nice":false},"axis":{"values":[-45,-30,-15,0],"tickCount":20,"title":"Time (min)"}},
  "y":{"field":"v","type":"quantitative","scale":{"domain":[0.7,1],"nice":false,"zero":false},"axis":{"values":[0.7,0.8,0.9,1],"tickCount":20,"format":".1f","title":"RQ","titleFontSize":11,"titleX":-26}},
  "color":{"field":"g","type":"nominal","scale":{"domain":["SED","V","G","A","A+G"],"range":["#111111","#2a3bd6","#33dd33","#e8281e","#9c3aae"]},"legend":null}}},
 {"data":{"values":[{}]},"mark":{"type":"text","fontSize":10.5,"baseline":"alphabetic"},"encoding":{"x":{"datum":-15},"y":{"datum":0.961},"text":{"value":"Last 30 min"}}}
 ]},
{"width":41,"height":111,"data":{"values":[]},"mark":{"type":"point","opacity":0}},
{"width":97,"height":111,"layer":[
 {"data":{"name":"bF"},"mark":{"type":"bar","stroke":"#555555","strokeWidth":1},"encoding":{
  "x":{"field":"group","type":"nominal","scale":{"domain":["SED","V","G","A","A+G"],"paddingInner":0.27,"paddingOuter":0.17},"axis":{"ticks":false,"title":null,"labelAngle":0,"labelFontSize":10.5,"labelPadding":2}},
  "y":{"field":"mean","type":"quantitative","scale":{"domain":[0.7,0.8],"nice":false,"zero":false},"axis":{"values":[0.7,0.75,0.8],"tickCount":20,"format":".2f","title":null}},
  "y2":{"datum":0.7},
  "fill":{"field":"group","type":"nominal","scale":{"domain":["A+G","A","G","V","SED"],"range":["#000000","#737373","#ababab","#e3e3e3","#ffffff"]},"legend":null}}},
 {"data":{"name":"bF"},"mark":{"type":"rule","color":"#555555","strokeWidth":1},"encoding":{"x":{"field":"group","type":"nominal"},"y":{"field":"mean","type":"quantitative"},"y2":{"field":"hi"}}},
 {"data":{"name":"bF"},"mark":{"type":"tick","color":"#555555","orient":"horizontal","size":8,"thickness":1},"encoding":{"x":{"field":"group","type":"nominal"},"y":{"field":"hi","type":"quantitative"}}},
 {"data":{"values":[{"group":"V","y":0.7596},{"group":"A","y":0.7596}]},"mark":{"type":"line","color":"#777777","strokeWidth":1},"encoding":{"x":{"field":"group","type":"nominal"},"y":{"field":"y","type":"quantitative"}}},
 {"data":{"values":[{"group":"G","y":0.7596,"s":"**"},{"group":"A+G","y":0.7214,"s":"***"}]},"mark":{"type":"text","fontSize":9,"dy":-2.5,"baseline":"alphabetic"},"encoding":{"x":{"field":"group","type":"nominal"},"y":{"field":"y","type":"quantitative"},"text":{"field":"s"}}}
 ]},

{"width":119,"height":110,"title":{"text":"B","anchor":"start","frame":"group","fontSize":11,"fontWeight":"bold","baseline":"alphabetic","offset":0,"dx":-41,"dy":7.5},
 "layer":[
 {"data":{"values":[{}]},"mark":{"type":"rule","color":"#999999","strokeWidth":1},"encoding":{"x":{"datum":0}}},
 {"data":{"values":[{}]},"mark":{"type":"rule","color":"#999999","strokeWidth":1},"encoding":{"x":{"datum":45}}},
 {"data":{"name":"lB"},"mark":{"type":"line","strokeWidth":1.1},"encoding":{
  "x":{"field":"t","type":"quantitative","scale":{"domain":[-45,45],"nice":false},"axis":{"values":[-45,-30,-15,0,15,30,45],"tickCount":20,"labelFontSize":8.5,"title":"Time (min)"}},
  "y":{"field":"v","type":"quantitative","scale":{"domain":[0,60],"nice":false},"axis":{"values":[0,20,40,60],"tickCount":20,"format":"d","title":["Oxygen consumption","(ml/min/kg BW)"],"titleX":-37.5}},
  "color":{"field":"g","type":"nominal","scale":{"domain":["SED","V","G","A","A+G"],"range":["#111111","#2a3bd6","#33dd33","#e8281e","#9c3aae"]},"legend":null}}},
 {"data":{"values":[{}]},"mark":{"type":"text","fontSize":10.5,"baseline":"alphabetic"},"encoding":{"x":{"datum":-22.5},"y":{"datum":52.4},"text":{"value":"Rest"}}},
 {"data":{"values":[{}]},"mark":{"type":"text","fontSize":10.5,"baseline":"alphabetic"},"encoding":{"x":{"datum":22.5},"y":{"datum":52.4},"text":{"value":"Run"}}}
 ]},
{"width":41,"height":118,"data":{"values":[]},"mark":{"type":"point","opacity":0}},
{"width":184,"height":110,"layer":[
 {"data":{"name":"bB"},"mark":{"type":"bar","stroke":"#555555","strokeWidth":1},"encoding":{
  "x":{"field":"phase","type":"nominal","scale":{"domain":["Rest","Run"],"paddingInner":0,"paddingOuter":0},"axis":{"labels":false,"ticks":false,"title":null}},
  "xOffset":{"field":"group","type":"nominal","scale":{"domain":["SED","V","G","A","A+G"],"paddingInner":0.3,"paddingOuter":0.52}},
  "y":{"field":"mean","type":"quantitative","scale":{"domain":[0,2500],"nice":false},"axis":{"values":[0,500,1000,1500,2000,2500],"tickCount":20,"format":"d","title":null}},
  "fill":{"field":"group","type":"nominal","scale":{"domain":["A+G","A","G","V","SED"],"range":["#000000","#737373","#ababab","#e3e3e3","#ffffff"]},"legend":null}}},
 {"data":{"name":"bB"},"mark":{"type":"rule","color":"#555555","strokeWidth":1},"encoding":{"x":{"field":"phase","type":"nominal"},"xOffset":{"field":"group","type":"nominal"},"y":{"field":"mean","type":"quantitative"},"y2":{"field":"hi"}}},
 {"data":{"name":"bB"},"mark":{"type":"tick","color":"#555555","orient":"horizontal","size":7,"thickness":1},"encoding":{"x":{"field":"phase","type":"nominal"},"xOffset":{"field":"group","type":"nominal"},"y":{"field":"hi","type":"quantitative"}}},
 {"data":{"values":[{}]},"mark":{"type":"rule","color":"#999999","strokeWidth":1.2},"encoding":{"x":{"datum":"Run","bandPosition":0}}},
 {"data":{"values":[{}]},"mark":{"type":"text","fontSize":11,"baseline":"alphabetic"},"encoding":{"x":{"datum":"Rest"},"y":{"datum":2318},"text":{"value":"Rest"}}},
 {"data":{"values":[{}]},"mark":{"type":"text","fontSize":11,"baseline":"alphabetic"},"encoding":{"x":{"datum":"Run"},"y":{"datum":2318},"text":{"value":"Run"}}}
 ]},
{"width":76,"height":118,"data":{"values":[]},"mark":{"type":"point","opacity":0}},
{"width":99,"height":110,"title":{"text":"G","anchor":"start","frame":"group","fontSize":11,"fontWeight":"bold","baseline":"alphabetic","offset":0,"dx":-50,"dy":6.5},
 "layer":[
 {"data":{"values":[{}]},"mark":{"type":"rule","color":"#777777","strokeWidth":1},"encoding":{"x":{"datum":-30}}},
 {"data":{"values":[{}]},"mark":{"type":"rule","color":"#777777","strokeWidth":1},"encoding":{"x":{"datum":0}}},
 {"data":{"name":"lG"},"mark":{"type":"line","strokeWidth":1.1},"encoding":{
  "x":{"field":"t","type":"quantitative","scale":{"domain":[-45,0],"nice":false},"axis":{"values":[-45,-30,-15,0],"tickCount":20,"title":"Time (min)"}},
  "y":{"field":"v","type":"quantitative","scale":{"domain":[0,60],"nice":false},"axis":{"values":[0,20,40,60],"tickCount":20,"format":"d","title":["Oxygen consumption","(ml/min/kg BW)"],"titleX":-37}},
  "color":{"field":"g","type":"nominal","scale":{"domain":["SED","V","G","A","A+G"],"range":["#111111","#2a3bd6","#33dd33","#e8281e","#9c3aae"]},"legend":null}}},
 {"data":{"values":[{}]},"mark":{"type":"text","fontSize":10.5,"baseline":"alphabetic"},"encoding":{"x":{"datum":-15},"y":{"datum":52.4},"text":{"value":"Last 30 min"}}}
 ]},
{"width":41,"height":118,"data":{"values":[]},"mark":{"type":"point","opacity":0}},
{"width":97,"height":110,"layer":[
 {"data":{"name":"bG"},"mark":{"type":"bar","stroke":"#555555","strokeWidth":1},"encoding":{
  "x":{"field":"group","type":"nominal","scale":{"domain":["SED","V","G","A","A+G"],"paddingInner":0.27,"paddingOuter":0.17},"axis":{"ticks":false,"title":null,"labelAngle":0,"labelFontSize":10.5,"labelPadding":2}},
  "y":{"field":"mean","type":"quantitative","scale":{"domain":[0,1500],"nice":false},"axis":{"values":[0,500,1000,1500],"tickCount":20,"format":"d","title":null}},
  "fill":{"field":"group","type":"nominal","scale":{"domain":["A+G","A","G","V","SED"],"range":["#000000","#737373","#ababab","#e3e3e3","#ffffff"]},"legend":null}}},
 {"data":{"name":"bG"},"mark":{"type":"rule","color":"#555555","strokeWidth":1},"encoding":{"x":{"field":"group","type":"nominal"},"y":{"field":"mean","type":"quantitative"},"y2":{"field":"hi"}}},
 {"data":{"name":"bG"},"mark":{"type":"tick","color":"#555555","orient":"horizontal","size":8,"thickness":1},"encoding":{"x":{"field":"group","type":"nominal"},"y":{"field":"hi","type":"quantitative"}}}
 ]},

{"width":119,"height":111,"title":{"text":"C","anchor":"start","frame":"group","fontSize":11,"fontWeight":"bold","baseline":"alphabetic","offset":0,"dx":-41,"dy":1.5},
 "layer":[
 {"data":{"values":[{}]},"mark":{"type":"rule","color":"#999999","strokeWidth":1},"encoding":{"x":{"datum":0}}},
 {"data":{"values":[{}]},"mark":{"type":"rule","color":"#999999","strokeWidth":1},"encoding":{"x":{"datum":45}}},
 {"data":{"name":"lC"},"mark":{"type":"line","strokeWidth":1.1},"encoding":{
  "x":{"field":"t","type":"quantitative","scale":{"domain":[-45,45],"nice":false},"axis":{"values":[-45,-30,-15,0,15,30,45],"tickCount":20,"labelFontSize":8.5,"title":"Time (min)"}},
  "y":{"field":"v","type":"quantitative","scale":{"domain":[0,30],"nice":false},"axis":{"values":[0,10,20,30],"tickCount":20,"format":"d","title":["Carbohydrate oxidation","(mg/min/kg BW)"],"titleX":-37.5}},
  "color":{"field":"g","type":"nominal","scale":{"domain":["SED","V","G","A","A+G"],"range":["#111111","#2a3bd6","#33dd33","#e8281e","#9c3aae"]},"legend":null}}},
 {"data":{"values":[{}]},"mark":{"type":"text","fontSize":10.5,"baseline":"alphabetic"},"encoding":{"x":{"datum":-22.5},"y":{"datum":26.2},"text":{"value":"Rest"}}},
 {"data":{"values":[{}]},"mark":{"type":"text","fontSize":10.5,"baseline":"alphabetic"},"encoding":{"x":{"datum":22.5},"y":{"datum":26.2},"text":{"value":"Run"}}}
 ]},
{"width":41,"height":113,"data":{"values":[]},"mark":{"type":"point","opacity":0}},
{"width":184,"height":111,"layer":[
 {"data":{"name":"bC"},"mark":{"type":"bar","stroke":"#555555","strokeWidth":1},"encoding":{
  "x":{"field":"phase","type":"nominal","scale":{"domain":["Rest","Run"],"paddingInner":0,"paddingOuter":0},"axis":{"labels":false,"ticks":false,"title":null}},
  "xOffset":{"field":"group","type":"nominal","scale":{"domain":["SED","V","G","A","A+G"],"paddingInner":0.3,"paddingOuter":0.52}},
  "y":{"field":"mean","type":"quantitative","scale":{"domain":[0,800],"nice":false},"axis":{"values":[0,200,400,600,800],"tickCount":20,"format":"d","title":null}},
  "fill":{"field":"group","type":"nominal","scale":{"domain":["A+G","A","G","V","SED"],"range":["#000000","#737373","#ababab","#e3e3e3","#ffffff"]},"legend":null}}},
 {"data":{"name":"bC"},"mark":{"type":"rule","color":"#555555","strokeWidth":1},"encoding":{"x":{"field":"phase","type":"nominal"},"xOffset":{"field":"group","type":"nominal"},"y":{"field":"mean","type":"quantitative"},"y2":{"field":"hi"}}},
 {"data":{"name":"bC"},"mark":{"type":"tick","color":"#555555","orient":"horizontal","size":7,"thickness":1},"encoding":{"x":{"field":"phase","type":"nominal"},"xOffset":{"field":"group","type":"nominal"},"y":{"field":"hi","type":"quantitative"}}},
 {"data":{"values":[{}]},"mark":{"type":"rule","color":"#999999","strokeWidth":1.2},"encoding":{"x":{"datum":"Run","bandPosition":0}}},
 {"data":{"values":[{}]},"mark":{"type":"text","fontSize":11,"baseline":"alphabetic"},"encoding":{"x":{"datum":"Rest"},"y":{"datum":742},"text":{"value":"Rest"}}},
 {"data":{"values":[{}]},"mark":{"type":"text","fontSize":11,"baseline":"alphabetic"},"encoding":{"x":{"datum":"Run"},"y":{"datum":742},"text":{"value":"Run"}}},
 {"data":{"values":[{"phase":"Run","group":"A","y":418,"s":"*"}]},"mark":{"type":"text","fontSize":9,"dy":-2,"baseline":"alphabetic"},"encoding":{"x":{"field":"phase","type":"nominal"},"xOffset":{"field":"group","type":"nominal"},"y":{"field":"y","type":"quantitative"},"text":{"field":"s"}}}
 ]},
{"width":76,"height":113,"data":{"values":[]},"mark":{"type":"point","opacity":0}},
{"width":99,"height":111,"title":{"text":"H","anchor":"start","frame":"group","fontSize":11,"fontWeight":"bold","baseline":"alphabetic","offset":0,"dx":-50,"dy":1},
 "layer":[
 {"data":{"values":[{}]},"mark":{"type":"rule","color":"#777777","strokeWidth":1},"encoding":{"x":{"datum":-30}}},
 {"data":{"values":[{}]},"mark":{"type":"rule","color":"#777777","strokeWidth":1},"encoding":{"x":{"datum":0}}},
 {"data":{"name":"lH"},"mark":{"type":"line","strokeWidth":1.1},"encoding":{
  "x":{"field":"t","type":"quantitative","scale":{"domain":[-45,0],"nice":false},"axis":{"values":[-45,-30,-15,0],"tickCount":20,"title":"Time (min)"}},
  "y":{"field":"v","type":"quantitative","scale":{"domain":[0,30],"nice":false},"axis":{"values":[0,10,20,30],"tickCount":20,"format":"d","title":["Carbohydrate oxidation","(mg/min/kg BW)"],"titleX":-37}},
  "color":{"field":"g","type":"nominal","scale":{"domain":["SED","V","G","A","A+G"],"range":["#111111","#2a3bd6","#33dd33","#e8281e","#9c3aae"]},"legend":null}}},
 {"data":{"values":[{}]},"mark":{"type":"text","fontSize":10.5,"baseline":"alphabetic"},"encoding":{"x":{"datum":-15},"y":{"datum":26.2},"text":{"value":"Last 30 min"}}}
 ]},
{"width":41,"height":113,"data":{"values":[]},"mark":{"type":"point","opacity":0}},
{"width":97,"height":111,"layer":[
 {"data":{"name":"bH"},"mark":{"type":"bar","stroke":"#555555","strokeWidth":1},"encoding":{
  "x":{"field":"group","type":"nominal","scale":{"domain":["SED","V","G","A","A+G"],"paddingInner":0.27,"paddingOuter":0.17},"axis":{"ticks":false,"title":null,"labelAngle":0,"labelFontSize":10.5,"labelPadding":2}},
  "y":{"field":"mean","type":"quantitative","scale":{"domain":[0,500],"nice":false},"axis":{"values":[0,100,200,300,400,500],"tickCount":20,"format":"d","title":null}},
  "fill":{"field":"group","type":"nominal","scale":{"domain":["A+G","A","G","V","SED"],"range":["#000000","#737373","#ababab","#e3e3e3","#ffffff"]},"legend":null}}},
 {"data":{"name":"bH"},"mark":{"type":"rule","color":"#555555","strokeWidth":1},"encoding":{"x":{"field":"group","type":"nominal"},"y":{"field":"mean","type":"quantitative"},"y2":{"field":"hi"}}},
 {"data":{"name":"bH"},"mark":{"type":"tick","color":"#555555","orient":"horizontal","size":8,"thickness":1},"encoding":{"x":{"field":"group","type":"nominal"},"y":{"field":"hi","type":"quantitative"}}},
 {"data":{"values":[{"group":"V","y":296},{"group":"A","y":296}]},"mark":{"type":"line","color":"#777777","strokeWidth":1},"encoding":{"x":{"field":"group","type":"nominal"},"y":{"field":"y","type":"quantitative"}}},
 {"data":{"values":[{"group":"G","y":296,"s":"**"},{"group":"A+G","y":92,"s":"***"}]},"mark":{"type":"text","fontSize":9,"dy":-2.5,"baseline":"alphabetic"},"encoding":{"x":{"field":"group","type":"nominal"},"y":{"field":"y","type":"quantitative"},"text":{"field":"s"}}}
 ]},

{"width":119,"height":110,"title":{"text":"D","anchor":"start","frame":"group","fontSize":11,"fontWeight":"bold","baseline":"alphabetic","offset":0,"dx":-41,"dy":9},
 "layer":[
 {"data":{"values":[{}]},"mark":{"type":"rule","color":"#999999","strokeWidth":1},"encoding":{"x":{"datum":0}}},
 {"data":{"values":[{}]},"mark":{"type":"rule","color":"#999999","strokeWidth":1},"encoding":{"x":{"datum":45}}},
 {"data":{"name":"lD"},"mark":{"type":"line","strokeWidth":1.1},"encoding":{
  "x":{"field":"t","type":"quantitative","scale":{"domain":[-45,45],"nice":false},"axis":{"values":[-45,-30,-15,0,15,30,45],"tickCount":20,"labelFontSize":8.5,"title":"Time (min)"}},
  "y":{"field":"v","type":"quantitative","scale":{"domain":[0,25],"nice":false},"axis":{"values":[0,5,10,15,20,25],"tickCount":20,"format":"d","title":["Fat oxidation","(mg/min/kg BW)"],"titleX":-37.5}},
  "color":{"field":"g","type":"nominal","scale":{"domain":["SED","V","G","A","A+G"],"range":["#111111","#2a3bd6","#33dd33","#e8281e","#9c3aae"]},"legend":null}}},
 {"data":{"values":[{}]},"mark":{"type":"text","fontSize":10.5,"baseline":"alphabetic"},"encoding":{"x":{"datum":-22.5},"y":{"datum":21.8},"text":{"value":"Rest"}}},
 {"data":{"values":[{}]},"mark":{"type":"text","fontSize":10.5,"baseline":"alphabetic"},"encoding":{"x":{"datum":22.5},"y":{"datum":21.8},"text":{"value":"Run"}}}
 ]},
{"width":41,"height":117,"data":{"values":[]},"mark":{"type":"point","opacity":0}},
{"width":184,"height":110,"layer":[
 {"data":{"name":"bD"},"mark":{"type":"bar","stroke":"#555555","strokeWidth":1},"encoding":{
  "x":{"field":"phase","type":"nominal","scale":{"domain":["Rest","Run"],"paddingInner":0,"paddingOuter":0},"axis":{"labels":false,"ticks":false,"title":null}},
  "xOffset":{"field":"group","type":"nominal","scale":{"domain":["SED","V","G","A","A+G"],"paddingInner":0.3,"paddingOuter":0.52}},
  "y":{"field":"mean","type":"quantitative","scale":{"domain":[0,1200],"nice":false},"axis":{"values":[0,300,600,900,1200],"tickCount":20,"format":"d","title":null}},
  "fill":{"field":"group","type":"nominal","scale":{"domain":["A+G","A","G","V","SED"],"range":["#000000","#737373","#ababab","#e3e3e3","#ffffff"]},"legend":null}}},
 {"data":{"name":"bD"},"mark":{"type":"rule","color":"#555555","strokeWidth":1},"encoding":{"x":{"field":"phase","type":"nominal"},"xOffset":{"field":"group","type":"nominal"},"y":{"field":"mean","type":"quantitative"},"y2":{"field":"hi"}}},
 {"data":{"name":"bD"},"mark":{"type":"tick","color":"#555555","orient":"horizontal","size":7,"thickness":1},"encoding":{"x":{"field":"phase","type":"nominal"},"xOffset":{"field":"group","type":"nominal"},"y":{"field":"hi","type":"quantitative"}}},
 {"data":{"values":[{}]},"mark":{"type":"rule","color":"#999999","strokeWidth":1.2},"encoding":{"x":{"datum":"Run","bandPosition":0}}},
 {"data":{"values":[{}]},"mark":{"type":"text","fontSize":11,"baseline":"alphabetic"},"encoding":{"x":{"datum":"Rest"},"y":{"datum":1113},"text":{"value":"Rest"}}},
 {"data":{"values":[{}]},"mark":{"type":"text","fontSize":11,"baseline":"alphabetic"},"encoding":{"x":{"datum":"Run"},"y":{"datum":1113},"text":{"value":"Run"}}}
 ]},
{"width":76,"height":117,"data":{"values":[]},"mark":{"type":"point","opacity":0}},
{"width":99,"height":110,"title":{"text":"I","anchor":"start","frame":"group","fontSize":11,"fontWeight":"bold","baseline":"alphabetic","offset":0,"dx":-50,"dy":11},
 "layer":[
 {"data":{"values":[{}]},"mark":{"type":"rule","color":"#777777","strokeWidth":1},"encoding":{"x":{"datum":-30}}},
 {"data":{"values":[{}]},"mark":{"type":"rule","color":"#777777","strokeWidth":1},"encoding":{"x":{"datum":0}}},
 {"data":{"name":"lI"},"mark":{"type":"line","strokeWidth":1.1},"encoding":{
  "x":{"field":"t","type":"quantitative","scale":{"domain":[-45,0],"nice":false},"axis":{"values":[-45,-30,-15,0],"tickCount":20,"title":"Time (min)"}},
  "y":{"field":"v","type":"quantitative","scale":{"domain":[0,25],"nice":false},"axis":{"values":[0,5,10,15,20,25],"tickCount":20,"format":"d","title":["Fat oxidation","(mg/min/kg BW)"],"titleX":-37}},
  "color":{"field":"g","type":"nominal","scale":{"domain":["SED","V","G","A","A+G"],"range":["#111111","#2a3bd6","#33dd33","#e8281e","#9c3aae"]},"legend":null}}},
 {"data":{"values":[{}]},"mark":{"type":"text","fontSize":10.5,"baseline":"alphabetic"},"encoding":{"x":{"datum":-15},"y":{"datum":21.8},"text":{"value":"Last 30 min"}}}
 ]},
{"width":41,"height":117,"data":{"values":[]},"mark":{"type":"point","opacity":0}},
{"width":97,"height":110,"layer":[
 {"data":{"name":"bI"},"mark":{"type":"bar","stroke":"#555555","strokeWidth":1},"encoding":{
  "x":{"field":"group","type":"nominal","scale":{"domain":["SED","V","G","A","A+G"],"paddingInner":0.27,"paddingOuter":0.17},"axis":{"ticks":false,"title":null,"labelAngle":0,"labelFontSize":10.5,"labelPadding":2}},
  "y":{"field":"mean","type":"quantitative","scale":{"domain":[0,800],"nice":false},"axis":{"values":[0,200,400,600,800],"tickCount":20,"format":"d","title":null}},
  "fill":{"field":"group","type":"nominal","scale":{"domain":["A+G","A","G","V","SED"],"range":["#000000","#737373","#ababab","#e3e3e3","#ffffff"]},"legend":null}}},
 {"data":{"name":"bI"},"mark":{"type":"rule","color":"#555555","strokeWidth":1},"encoding":{"x":{"field":"group","type":"nominal"},"y":{"field":"mean","type":"quantitative"},"y2":{"field":"hi"}}},
 {"data":{"name":"bI"},"mark":{"type":"tick","color":"#555555","orient":"horizontal","size":8,"thickness":1},"encoding":{"x":{"field":"group","type":"nominal"},"y":{"field":"hi","type":"quantitative"}}},
 {"data":{"values":[{"group":"A+G","y":632,"s":"*"}]},"mark":{"type":"text","fontSize":9,"dy":-2.5,"baseline":"alphabetic"},"encoding":{"x":{"field":"group","type":"nominal"},"y":{"field":"y","type":"quantitative"},"text":{"field":"s"}}}
 ]},

{"width":112,"height":108,"title":{"text":"E","anchor":"start","frame":"group","fontSize":11,"fontWeight":"bold","baseline":"alphabetic","offset":0,"dx":-41,"dy":13.5},
 "layer":[
 {"data":{"values":[{}]},"mark":{"type":"rule","color":"#999999","strokeWidth":1},"encoding":{"x":{"datum":0}}},
 {"data":{"values":[{}]},"mark":{"type":"rule","color":"#999999","strokeWidth":1},"encoding":{"x":{"datum":45}}},
 {"data":{"name":"lE"},"mark":{"type":"line","strokeWidth":1.1},"encoding":{
  "x":{"field":"t","type":"quantitative","scale":{"domain":[-45,45],"nice":false},"axis":{"values":[-40,-20,0,20,40],"tickCount":20,"labelFontSize":8.5,"title":"Time (min)"}},
  "y":{"field":"v","type":"quantitative","scale":{"domain":[0,8],"nice":false},"axis":{"values":[0,2,4,6,8],"tickCount":20,"format":"d","title":["Energy expenditure","(cal/min/kg BW)"],"titleFontSize":9,"titleLineHeight":9,"titleX":-30.5}},
  "color":{"field":"g","type":"nominal","scale":{"domain":["SED","V","G","A","A+G"],"range":["#111111","#2a3bd6","#33dd33","#e8281e","#9c3aae"]},"legend":null}}},
 {"data":{"values":[{}]},"mark":{"type":"text","fontSize":10.5,"baseline":"alphabetic"},"encoding":{"x":{"datum":-22.5},"y":{"datum":6.96},"text":{"value":"Rest"}}},
 {"data":{"values":[{}]},"mark":{"type":"text","fontSize":10.5,"baseline":"alphabetic"},"encoding":{"x":{"datum":22.5},"y":{"datum":6.96},"text":{"value":"Run"}}}
 ]},
{"width":41,"height":108,"data":{"values":[]},"mark":{"type":"point","opacity":0}},
{"width":184,"height":108,"layer":[
 {"data":{"name":"bE"},"mark":{"type":"bar","stroke":"#555555","strokeWidth":1},"encoding":{
  "x":{"field":"phase","type":"nominal","scale":{"domain":["Rest","Run"],"paddingInner":0,"paddingOuter":0},"axis":{"labels":false,"ticks":false,"title":null}},
  "xOffset":{"field":"group","type":"nominal","scale":{"domain":["SED","V","G","A","A+G"],"paddingInner":0.3,"paddingOuter":0.52}},
  "y":{"field":"mean","type":"quantitative","scale":{"domain":[0,300],"nice":false},"axis":{"values":[0,100,200,300],"tickCount":20,"format":"d","title":null}},
  "fill":{"field":"group","type":"nominal","scale":{"domain":["A+G","A","G","V","SED"],"range":["#000000","#737373","#ababab","#e3e3e3","#ffffff"]},"legend":null}}},
 {"data":{"name":"bE"},"mark":{"type":"rule","color":"#555555","strokeWidth":1},"encoding":{"x":{"field":"phase","type":"nominal"},"xOffset":{"field":"group","type":"nominal"},"y":{"field":"mean","type":"quantitative"},"y2":{"field":"hi"}}},
 {"data":{"name":"bE"},"mark":{"type":"tick","color":"#555555","orient":"horizontal","size":7,"thickness":1},"encoding":{"x":{"field":"phase","type":"nominal"},"xOffset":{"field":"group","type":"nominal"},"y":{"field":"hi","type":"quantitative"}}},
 {"data":{"values":[{}]},"mark":{"type":"rule","color":"#999999","strokeWidth":1.2},"encoding":{"x":{"datum":"Run","bandPosition":0}}},
 {"data":{"values":[{}]},"mark":{"type":"text","fontSize":11,"baseline":"alphabetic"},"encoding":{"x":{"datum":"Rest"},"y":{"datum":278},"text":{"value":"Rest"}}},
 {"data":{"values":[{}]},"mark":{"type":"text","fontSize":11,"baseline":"alphabetic"},"encoding":{"x":{"datum":"Run"},"y":{"datum":278},"text":{"value":"Run"}}}
 ]},
{"width":76,"height":108,"data":{"values":[]},"mark":{"type":"point","opacity":0}},
{"width":99,"height":108,"title":{"text":"J","anchor":"start","frame":"group","fontSize":11,"fontWeight":"bold","baseline":"alphabetic","offset":0,"dx":-50,"dy":12},
 "layer":[
 {"data":{"values":[{}]},"mark":{"type":"rule","color":"#777777","strokeWidth":1},"encoding":{"x":{"datum":-30}}},
 {"data":{"values":[{}]},"mark":{"type":"rule","color":"#777777","strokeWidth":1},"encoding":{"x":{"datum":0}}},
 {"data":{"name":"lJ"},"mark":{"type":"line","strokeWidth":1.1},"encoding":{
  "x":{"field":"t","type":"quantitative","scale":{"domain":[-45,0],"nice":false},"axis":{"values":[-45,-30,-15,0],"tickCount":20,"title":"Time (min)"}},
  "y":{"field":"v","type":"quantitative","scale":{"domain":[0,8],"nice":false},"axis":{"values":[0,2,4,6,8],"tickCount":20,"format":"d","title":["Energy expenditure","(cal/min/kg BW)"],"titleFontSize":9,"titleLineHeight":9,"titleX":-29}},
  "color":{"field":"g","type":"nominal","scale":{"domain":["SED","V","G","A","A+G"],"range":["#111111","#2a3bd6","#33dd33","#e8281e","#9c3aae"]},"legend":null}}},
 {"data":{"values":[{}]},"mark":{"type":"text","fontSize":10.5,"baseline":"alphabetic"},"encoding":{"x":{"datum":-15},"y":{"datum":6.96},"text":{"value":"Last 30 min"}}}
 ]},
{"width":41,"height":108,"data":{"values":[]},"mark":{"type":"point","opacity":0}},
{"width":97,"height":108,"layer":[
 {"data":{"name":"bJ"},"mark":{"type":"bar","stroke":"#555555","strokeWidth":1},"encoding":{
  "x":{"field":"group","type":"nominal","scale":{"domain":["SED","V","G","A","A+G"],"paddingInner":0.27,"paddingOuter":0.17},"axis":{"ticks":false,"title":null,"labelAngle":0,"labelFontSize":9.5,"labelPadding":2}},
  "y":{"field":"mean","type":"quantitative","scale":{"domain":[0,200],"nice":false},"axis":{"values":[0,50,100,150,200],"tickCount":20,"format":"d","title":null,"labelFontSize":8.5}},
  "fill":{"field":"group","type":"nominal","scale":{"domain":["A+G","A","G","V","SED"],"range":["#000000","#737373","#ababab","#e3e3e3","#ffffff"]},"legend":null}}},
 {"data":{"name":"bJ"},"mark":{"type":"rule","color":"#555555","strokeWidth":1},"encoding":{"x":{"field":"group","type":"nominal"},"y":{"field":"mean","type":"quantitative"},"y2":{"field":"hi"}}},
 {"data":{"name":"bJ"},"mark":{"type":"tick","color":"#555555","orient":"horizontal","size":8,"thickness":1},"encoding":{"x":{"field":"group","type":"nominal"},"y":{"field":"hi","type":"quantitative"}}}
 ]}
],
"columns":7,
"spacing":{"row":53,"column":0},
"align":"each",
"bounds":"flush",
"resolve":{"scale":{"xOffset":"independent"}}
}
